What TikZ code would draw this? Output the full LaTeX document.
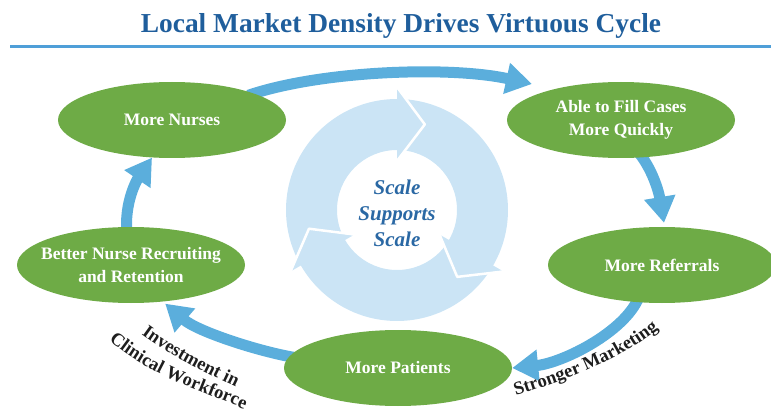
\documentclass[tikz,border=0pt]{standalone}
\usepackage{fontspec}
\setmainfont{Liberation Serif}
\usetikzlibrary{arrows.meta,shapes.geometric,backgrounds,calc,decorations.text}
\definecolor{titleblue}{HTML}{1F5E9C}
\definecolor{rulecol}{HTML}{4F9FD8}
\definecolor{leaf}{HTML}{6EAB46}
\definecolor{flow}{HTML}{5BAEDC}
\definecolor{ringcol}{HTML}{CBE4F5}
\definecolor{scaletxt}{HTML}{2A68A4}
\definecolor{ink}{HTML}{1E1E1E}
\tikzset{
 oval/.style={ellipse, fill=leaf, minimum width=228pt, minimum height=76pt, inner sep=0pt},
 ovaltext/.style={text=white, font=\bfseries\fontsize{17.5}{23}\selectfont, align=center, inner sep=0pt},
 flowarrow/.style={draw=flow, line width=11pt, -{Triangle[width=30pt,length=26pt]}},
}
\begin{document}
\begin{tikzpicture}[x=1pt,y=-1pt]
\useasboundingbox (0,0) rectangle (771,414);
% title
\node[anchor=base, font=\bfseries\fontsize{27.4}{30}\selectfont, text=titleblue, inner sep=0pt] (title) at (401,33) {Local Market Density Drives Virtuous Cycle};
\coordinate (ruleL) at (10,47);
\coordinate (ruleR) at (771,47);
\draw[rulecol, line width=3pt] (ruleL) -- (ruleR);
% central ring
\coordinate (C) at (397,210);
\fill[ringcol, even odd rule] (C) circle[radius=111pt] (C) circle[radius=60pt];
\begin{scope}[shift={(C)}]
\foreach \b in {90,-30,210}{
  \fill[ringcol] (\b:121pt) -- (\b-18:90pt) -- (\b:51pt) -- cycle;
  \draw[white, line width=2.5pt, line join=round] (\b:123pt) -- (\b-18:90pt) -- (\b:49pt);
}
\end{scope}
\node[font=\bfseries\itshape\fontsize{21}{26}\selectfont, text=scaletxt, align=center, inner sep=0pt] (scale) at (397,213) {Scale\\Supports\\Scale};
% ovals
\node[oval] (nurses) at (172,120) {};
\node[ovaltext] (nursesT) at (nurses.center) {More Nurses};
\node[oval] (fill) at (621,120) {};
\node[ovaltext] (fillT) at (fill.center) {Able to Fill Cases\\More Quickly};
\node[oval] (referrals) at (662,265) {};
\node[ovaltext] (referralsT) at (referrals.center) {More Referrals};
\node[oval] (patients) at (398,368) {};
\node[ovaltext] (patientsT) at (patients.center) {More Patients};
\node[oval] (recruit) at (131,265) {};
\node[ovaltext] (recruitT) at (recruit.center) {Better Nurse Recruiting\\and Retention};
% arrows
\coordinate (t1) at (532,84);
\begin{scope}[on background layer]
\draw[flowarrow, shorten <=-6pt] (nurses.18) .. controls +(68,-23) and +(-82,-18) .. (t1);
\draw[flowarrow, shorten <=-6pt, shorten >=4pt] (fill.-60) .. controls +(12,15) and +(-5,-30) .. (referrals.86);
\draw[flowarrow, shorten <=-6pt] (referrals.-124) .. controls +(-12,30) and +(50,-5) .. (patients.east);
\draw[flowarrow, shorten <=-6pt, shorten >=3pt] (patients.174) .. controls +(-30,-5) and +(35,30) .. (recruit.-49);
\draw[flowarrow, shorten <=-6pt] (recruit.97) .. controls +(-2,-25) and +(-15,22) .. (nurses.-118);
\end{scope}
% curved labels
\coordinate (invA) at (136,330);
\coordinate (invB) at (242,390);
\path[decorate, decoration={text along path, text align=center,
  text={|\color{ink}\bfseries\fontsize{18.5}{20}\selectfont|Investment in}}]
  (invA) .. controls (168,355) and (208,374) .. (invB);
\coordinate (cliA) at (104,336);
\coordinate (cliB) at (250,412);
\path[decorate, decoration={text along path, text align=center,
  text={|\color{ink}\bfseries\fontsize{18.5}{20}\selectfont|Clinical Workforce}}]
  (cliA) .. controls (150,378) and (205,391) .. (cliB);
\coordinate (strA) at (509,398);
\coordinate (strB) at (664,324);
\path[decorate, decoration={text along path, text align=center,
  text={|\color{ink}\bfseries\fontsize{18.5}{20}\selectfont|Stronger Marketing}}]
  (strA) .. controls (560,382) and (620,362) .. (strB);
\end{tikzpicture}
\end{document}
